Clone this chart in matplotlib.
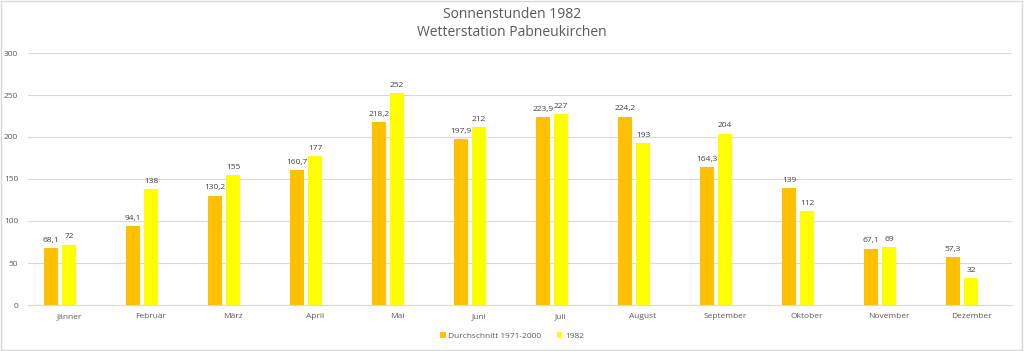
import numpy as np
import matplotlib
matplotlib.use('Agg')
import matplotlib.pyplot as plt

monate = ['Jänner', 'Februar', 'März', 'April', 'Mai', 'Juni', 'Juli',
          'August', 'September', 'Oktober', 'November', 'Dezember']
durchschnitt = [68.1, 94.1, 130.2, 160.7, 218.2, 197.9, 223.9, 224.2, 164.3, 139, 67.1, 57.3]
jahr_1982 = [72, 138, 155, 177, 252, 212, 227, 193, 204, 112, 69, 32]

plt.rcParams['font.family'] = ['Open Sans', 'DejaVu Sans']

fig = plt.figure(figsize=(10.24, 3.51), dpi=100)
ax = fig.add_axes([28/1024, 1-305/351, 984/1024, 252/351])

x = np.arange(len(monate))
w = 0.17
step = 0.22
b1 = ax.bar(x - step, durchschnitt, w, color='#FFC000', label='Durchschnitt 1971-2000', zorder=2)
b2 = ax.bar(x, jahr_1982, w, color='#FFFF00', label='1982', zorder=2)

def fmt(v):
    s = ('%g' % v).replace('.', ',')
    return s

for bars, vals in [(b1, durchschnitt), (b2, jahr_1982)]:
    for r, v in zip(bars, vals):
        ax.text(r.get_x() + r.get_width()/2, v + 5, fmt(v), ha='center', va='bottom',
                fontsize=6, color='#404040')

ax.set_xlim(-0.5, 11.5)
ax.set_ylim(0, 300)
ax.set_yticks(range(0, 301, 50))
ax.set_xticks(x)
ax.set_xticklabels(monate)
ax.tick_params(axis='both', length=0, labelsize=6, labelcolor='#595959')
ax.tick_params(axis='y', pad=7)
ax.tick_params(axis='x', pad=6)
ax.grid(axis='y', color='#d9d9d9', linewidth=0.8, zorder=0)
for s in ['top', 'right', 'left']:
    ax.spines[s].set_visible(False)
ax.spines['bottom'].set_color('#d9d9d9')

fig.text(0.5, 1-15/351, 'Sonnenstunden 1982', ha='center', va='center', fontsize=10, color='#595959')
fig.text(0.5, 1-32/351, 'Wetterstation Pabneukirchen', ha='center', va='center', fontsize=10, color='#595959')

fig.legend(loc='center', bbox_to_anchor=(0.5, 1-336/351), ncol=2, frameon=False, fontsize=6,
           handlelength=0.7, handleheight=0.7, handletextpad=0.3, columnspacing=1.8,
           labelcolor='#595959')

fig.patches.append(plt.Rectangle((0.001, 0.002), 0.997, 0.995, transform=fig.transFigure,
                                 fill=False, edgecolor='#d9d9d9', linewidth=1))

fig.savefig('out.png', dpi=100)
